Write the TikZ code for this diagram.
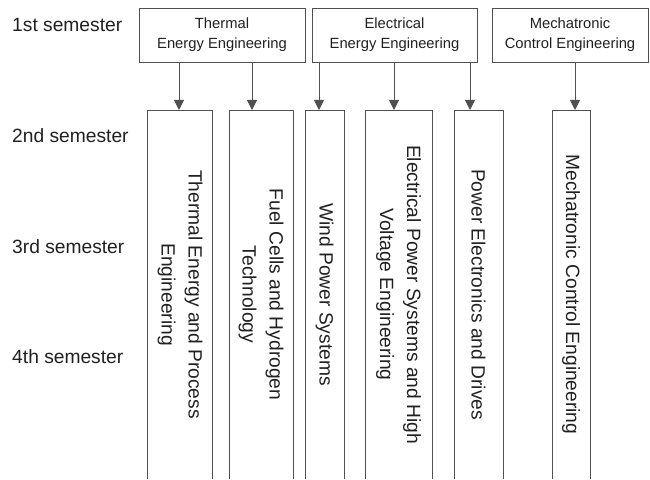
\documentclass[tikz,border=0pt]{standalone}
\usepackage{fontspec}
\setmainfont{Liberation Sans}
\usetikzlibrary{arrows.meta,positioning}
\definecolor{Line}{HTML}{505050}
\definecolor{Ink}{HTML}{202020}
\tikzset{
  progbox/.style={
    rectangle, draw=Line, line width=0.8pt, align=center, text=Ink,
    font=\fontsize{12.6}{17}\selectfont, inner sep=0pt, minimum height=1.62cm
  },
  semlabel/.style={anchor=west, text=Ink, font=\fontsize{16.4}{20}\selectfont, inner sep=0pt},
  coltext/.style={rotate=-90, align=center, text=Ink, font=\fontsize{16.4}{23}\selectfont},
  colline/.style={draw=Line, line width=0.8pt},
  feedarrow/.style={-{Triangle[width=0.3cm,length=0.3cm]}, Line, line width=0.8pt},
}
\begin{document}
\begin{tikzpicture}[x=0.03cm, y=-0.03cm]
    \useasboundingbox (0,0) rectangle (650,479);
    % semester labels
    \node[semlabel] (sem1) at (12,25) {1st semester};
    \node[semlabel] (sem2) at (12,136) {2nd semester};
    \node[semlabel] (sem3) at (12,247) {3rd semester};
    \node[semlabel] (sem4) at (12,357) {4th semester};
    % first semester programmes
    \node[progbox, minimum width=4.98cm] (thermal) at (222,35) {Thermal\\Energy Engineering};
    \node[progbox, minimum width=4.95cm] (electrical) at (394.5,35) {Electrical\\Energy Engineering};
    \node[progbox, minimum width=4.68cm] (mechatronic) at (570,35) {Mechatronic\\Control Engineering};
    % specialisation columns, open at the bottom
    \draw[colline] (147,479) |- (212,110) -- (212,479);
    \draw[colline] (229,479) |- (293,110) -- (293,479);
    \draw[colline] (305,479) |- (344,110) -- (344,479);
    \draw[colline] (365,479) |- (432,110) -- (432,479);
    \draw[colline] (454,479) |- (503,110) -- (503,479);
    \draw[colline] (552,479) |- (590,110) -- (590,479);
    \node[coltext] (thermproc) at (180,294.5) {Thermal Energy and Process\\Engineering};
    \node[coltext] (fuelcell) at (261,294.5) {Fuel Cells and Hydrogen\\Technology};
    \node[coltext] (wind) at (324.5,294.5) {Wind Power Systems};
    \node[coltext] (powersys) at (398.5,294.5) {Electrical Power Systems and High\\Voltage Engineering};
    \node[coltext] (drives) at (478.5,294.5) {Power Electronics and Drives};
    \node[coltext] (mechctrl) at (571,294.5) {Mechatronic Control Engineering};
    % arrow ends on the column tops
    \coordinate (t1) at (179,110);
    \coordinate (t2) at (252,110);
    \coordinate (t3) at (319,110);
    \coordinate (t4) at (394,110);
    \coordinate (t5) at (470,110);
    \coordinate (t6) at (575,110);
    \draw[feedarrow] (thermal.south -| t1) -- (t1);
    \draw[feedarrow] (thermal.south -| t2) -- (t2);
    \draw[feedarrow] (electrical.south -| t3) -- (t3);
    \draw[feedarrow] (electrical.south -| t4) -- (t4);
    \draw[feedarrow] (electrical.south -| t5) -- (t5);
    \draw[feedarrow] (mechatronic.south -| t6) -- (t6);
\end{tikzpicture}
\end{document}
